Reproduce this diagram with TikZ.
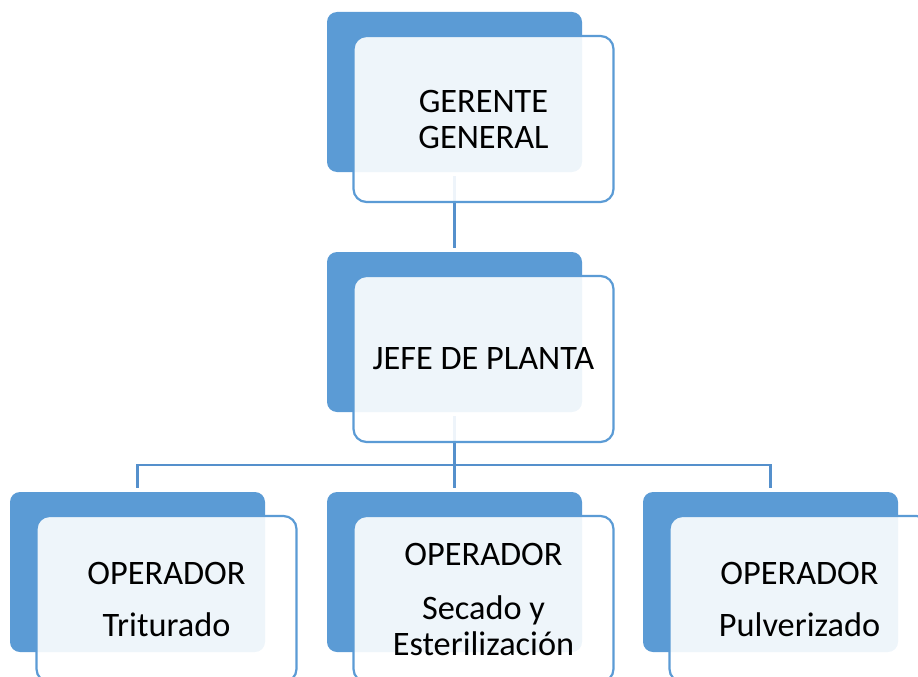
\documentclass[tikz,border=0pt]{standalone}
\usepackage{fontspec}
\setmainfont{Carlito}
\usepackage{tikz}
\definecolor{orgblue}{HTML}{5B9BD5}
\definecolor{linkblue}{HTML}{5590CC}
\pgfdeclarelayer{background}
\pgfsetlayers{background,main}
\tikzset{
  backbox/.style={rectangle, fill=orgblue, rounded corners=10pt,
                  minimum width=255pt, minimum height=160pt, inner sep=0pt},
  frontbox/.style={rectangle, draw=orgblue, line width=2.2pt, fill=white,
                   fill opacity=0.9, text opacity=1, rounded corners=13pt,
                   minimum width=260pt, minimum height=166pt, inner sep=0pt,
                   align=center, font=\fontsize{34.3}{36}\selectfont},
  link/.style={draw=linkblue, line width=2.4pt,
               shorten <=4pt, shorten >=4pt}
}
\newcommand{\orgunit}[4]{%
  % Blue card behind, pale card with the title in front.
  \node[backbox] (#1) at (#2,#3) {};
  \node[frontbox] (#1-card) at (#2+29,#3+27) {#4};
}

\begin{document}
\begin{tikzpicture}[x=1pt,y=-1pt]
  \useasboundingbox (0,0) rectangle (918,677);
  \clip (0,0) rectangle (918,677);

  \orgunit{gerente}{454.5}{92}{GERENTE\\GENERAL}
  \orgunit{jefe}{454.5}{332}{JEFE DE PLANTA}
  \orgunit{optrit}{137.5}{572}{OPERADOR\\[16pt]Triturado}
  \orgunit{opsec}{454.5}{572}{OPERADOR\\[18pt]Secado y\\Esterilización}
  \orgunit{oppul}{770.5}{572}{OPERADOR\\[16pt]Pulverizado}

  % Connectors sit under the pale cards.
  \begin{pgfonlayer}{background}
    \coordinate (bar) at (454.5,465);
    \draw[link] (gerente.south) -- (jefe.north);
    \draw[link] (jefe.south) -- (bar) -| (optrit.north);
    \draw[link] (jefe.south) -- (bar) -| (oppul.north);
    \draw[link] (jefe.south) -- (opsec.north);
  \end{pgfonlayer}
\end{tikzpicture}
\end{document}
